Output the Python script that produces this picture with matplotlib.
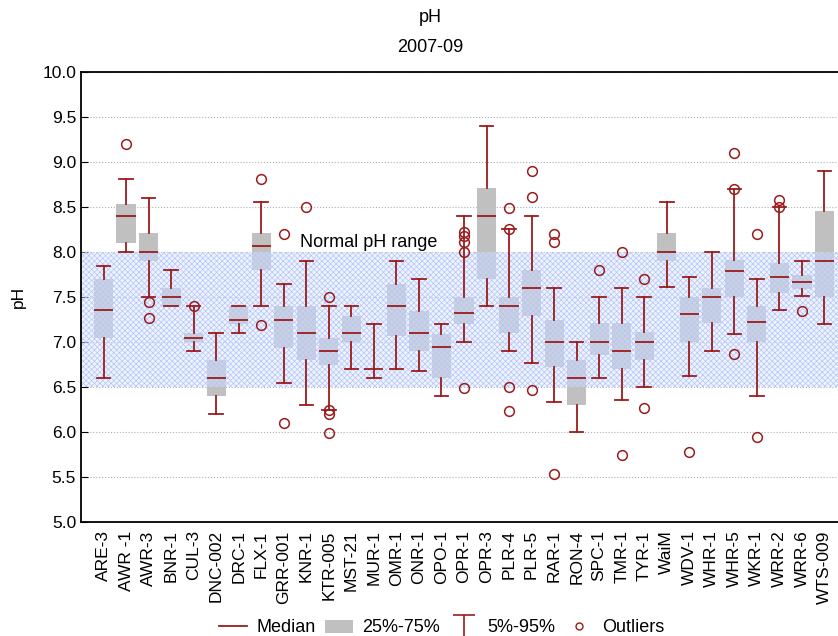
import numpy as np
import matplotlib
matplotlib.use("Agg")
import matplotlib.pyplot as plt
from matplotlib.lines import Line2D
from matplotlib.patches import Patch
from matplotlib.path import Path

plt.rcParams['font.family'] = ['Liberation Sans', 'DejaVu Sans']
plt.rcParams['hatch.linewidth'] = 0.5

sites = ["ARE-3", "AWR -1", "AWR-3", "BNR-1", "CUL-3", "DNC-002", "DRC-1", "FLX-1",
         "GRR-001", "KNR-1", "KTR-005", "MST-21", "MUR-1", "OMR-1", "ONR-1", "OPO-1",
         "OPR-1", "OPR-3", "PLR-4", "PLR-5", "RAR-1", "RON-4", "SPC-1", "TMR-1",
         "TYR-1", "WaiM", "WDV-1", "WHR-1", "WHR-5", "WKR-1", "WRR-2", "WRR-6", "WTS-009"]

# 5% whisker, 25%, median, 75%, 95% whisker
p05 = [6.60, 8.00, 7.50, 7.40, 6.90, 6.20, 7.10, 7.40, 6.54, 6.30, 6.24, 6.70, 6.60,
       6.70, 6.68, 6.40, 7.00, 7.40, 6.90, 6.77, 6.33, 6.00, 6.60, 6.36, 6.50, 7.61,
       6.62, 6.90, 7.09, 6.40, 7.36, 7.51, 7.20]
q25 = [7.05, 8.10, 7.90, 7.40, 7.00, 6.40, 7.20, 7.80, 6.93, 6.80, 6.75, 7.00, 6.70,
       7.07, 6.90, 6.60, 7.20, 7.70, 7.10, 7.29, 6.72, 6.30, 6.86, 6.70, 6.80, 7.90,
       7.00, 7.21, 7.50, 7.00, 7.54, 7.59, 7.50]
med = [7.36, 8.40, 8.00, 7.50, 7.05, 6.60, 7.25, 8.07, 7.25, 7.10, 6.90, 7.10, 6.70,
       7.40, 7.10, 6.94, 7.32, 8.40, 7.40, 7.60, 7.00, 6.60, 7.00, 6.90, 7.00, 8.00,
       7.31, 7.50, 7.79, 7.22, 7.72, 7.67, 7.90]
q75 = [7.70, 8.53, 8.21, 7.60, 7.10, 6.80, 7.40, 8.21, 7.40, 7.40, 7.05, 7.29, 6.70,
       7.64, 7.34, 7.09, 7.50, 8.71, 7.50, 7.80, 7.25, 6.80, 7.21, 7.21, 7.11, 8.21,
       7.50, 7.60, 7.91, 7.40, 7.88, 7.74, 8.46]
p95 = [7.85, 8.81, 8.60, 7.80, 7.40, 7.10, 7.40, 8.56, 7.65, 7.90, 7.40, 7.40, 7.20,
       7.90, 7.70, 7.20, 8.40, 9.40, 8.26, 8.40, 7.60, 7.00, 7.50, 7.60, 7.50, 8.55,
       7.72, 8.00, 8.70, 7.70, 8.50, 7.90, 8.90]
outliers = [[], [9.20], [7.45, 7.27], [], [7.40], [], [], [8.81, 7.19],
            [8.20, 6.10], [8.50], [7.50, 6.24, 6.20, 5.99], [], [],
            [], [], [], [8.22, 8.18, 8.11, 8.00, 6.49], [], [8.49, 8.26, 6.50, 6.23],
            [8.90, 8.61, 6.47], [8.20, 8.11, 5.53], [], [7.80], [8.00, 5.75],
            [7.70, 6.27], [], [5.78], [], [9.10, 8.70, 6.87], [8.20, 5.95],
            [8.58, 8.50], [7.34], []]

red = '#9b1c1c'
gray = '#c0c0c0'

stats = []
for i, s in enumerate(sites):
    stats.append(dict(label=s, whislo=p05[i], q1=q25[i], med=med[i], q3=q75[i],
                      whishi=p95[i], fliers=outliers[i]))

fig = plt.figure(figsize=(8.38, 6.36), dpi=100)
ax = fig.add_axes([81/838, 1 - 522/636, 1 - 81/838, 450/636])

pos = np.arange(len(sites))
res = ax.bxp(stats, positions=pos, widths=0.85, capwidths=0.6, patch_artist=True,
             showfliers=True,
             boxprops=dict(facecolor=gray, edgecolor='none', linewidth=0),
             medianprops=dict(color=red, linewidth=1.3),
             whiskerprops=dict(color=red, linewidth=1.3),
             capprops=dict(color=red, linewidth=1.3),
             flierprops=dict(marker='o', markersize=7, markerfacecolor='none',
                             markeredgecolor=red, markeredgewidth=1.1))
for b in res['boxes']:
    b.set_zorder(1)
for key in ['medians', 'whiskers', 'caps', 'fliers']:
    for a in res[key]:
        a.set_zorder(3)

# normal pH range band
ax.axhspan(6.5, 8.0, facecolor=(0.86, 0.9, 1.0, 0.45), edgecolor='#b4c6f8',
           hatch='xxxxxx', linewidth=0, zorder=2)
ax.text(8.7, 8.11, "Normal pH range", fontsize=13, va='center',
        ha='left', zorder=4)

ax.set_xlim(-1.0, 32.6)
ax.set_ylim(5.0, 10.0)
ax.set_yticks(np.arange(5.0, 10.01, 0.5))
ax.set_yticklabels([f"{v:.1f}" for v in np.arange(5.0, 10.01, 0.5)], fontsize=12.5)
ax.set_xticks(pos)
ax.set_xticklabels(sites, rotation=90, fontsize=12.5)
ax.tick_params(axis='x', which='major', length=0, pad=6)
ax.set_xticks(pos[::2], minor=True)
ax.tick_params(axis='x', which='minor', direction='in', length=5, top=True, bottom=True)
ax.tick_params(axis='y', direction='in', length=5)
ax.grid(axis='y', which='major', color='#b0b0b0', linestyle=':', linewidth=0.8)
ax.grid(axis='x', which='minor', color='#b0b0b0', linestyle=':', linewidth=0.8)
ax.set_axisbelow(True)
for side in ['left', 'top', 'bottom']:
    ax.spines[side].set_linewidth(1.3)
ax.spines['right'].set_visible(False)

ax.set_ylabel("pH", fontsize=12.5, labelpad=12)

fig.text(0.513, 1 - 18/636, "pH", ha='center', va='center', fontsize=13)
fig.text(0.513, 1 - 48/636, "2007-09", ha='center', va='center', fontsize=13)

tee = Path([(-1, 1), (1, 1), (0, 1), (0, -1)],
           [Path.MOVETO, Path.LINETO, Path.MOVETO, Path.LINETO])
handles = [Line2D([], [], color=red, linewidth=1.3),
           Patch(facecolor=gray, edgecolor='none'),
           Line2D([], [], linestyle='none', marker=tee, markersize=16,
                  markeredgecolor=red, markerfacecolor='none', markeredgewidth=1.2),
           Line2D([], [], linestyle='none', marker='o', markersize=5,
                  markerfacecolor='none', markeredgecolor=red)]
fig.legend(handles, ["Median", "25%-75%", "5%-95%", "Outliers"], ncol=4,
           loc='center', bbox_to_anchor=(0.527, 1 - 628/636), frameon=False,
           prop=dict(size=13), handlelength=1.55, columnspacing=0.55,
           handletextpad=0.5, borderaxespad=0)

fig.savefig("out.png", dpi=100)
